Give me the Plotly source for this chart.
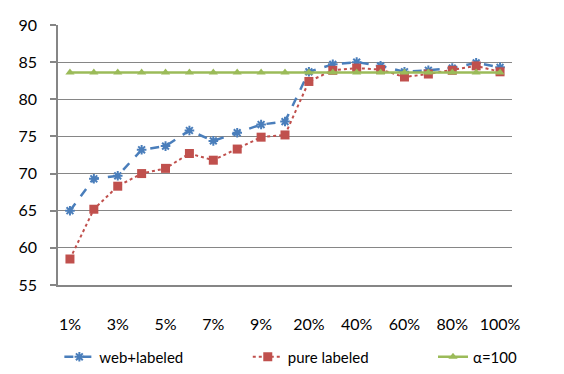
import plotly.graph_objects as go

categories = ["1%", "2%", "3%", "4%", "5%", "6%", "7%", "8%", "9%", "10%",
              "20%", "30%", "40%", "50%", "60%", "70%", "80%", "90%", "100%"]
web_labeled = [65.0, 69.3, 69.7, 73.2, 73.7, 75.8, 74.4, 75.5, 76.6, 77.0,
               83.7, 84.7, 85.0, 84.5, 83.7, 83.9, 84.2, 84.9, 84.3]
pure_labeled = [58.5, 65.2, 68.3, 70.0, 70.7, 72.7, 71.8, 73.3, 74.9, 75.2,
                82.4, 83.9, 84.2, 84.0, 83.0, 83.4, 83.9, 84.5, 83.7]
alpha_100 = [83.6] * len(categories)
shown_labels = ["1%", "3%", "5%", "7%", "9%", "20%", "40%", "60%", "80%", "100%"]

FONT = "Lato, 'Open Sans', sans-serif"
GRID = "#868686"

fig = go.Figure()
fig.add_trace(go.Scatter(
    x=categories, y=web_labeled, name="web+labeled", mode="lines+markers",
    line=dict(color="#4A7EBB", width=2.5, dash="dash"),
    marker=dict(symbol="asterisk-open", size=8, line=dict(color="#4A7EBB", width=2)),
    legend="legend",
))
fig.add_trace(go.Scatter(
    x=categories, y=pure_labeled, name="pure labeled", mode="lines+markers",
    line=dict(color="#C0504D", width=2, dash="dot"),
    marker=dict(symbol="square", size=9, color="#C0504D"),
    legend="legend2",
))
fig.add_trace(go.Scatter(
    x=categories, y=alpha_100, name="α=100", mode="lines+markers",
    line=dict(color="#9BBB59", width=2.5),
    marker=dict(symbol="triangle-up", size=8, color="#9BBB59"),
    legend="legend3",
))

n = len(categories)
leg_common = dict(orientation="h", y=-0.277, yanchor="middle", xanchor="left",
                  font=dict(size=15), bgcolor="rgba(0,0,0,0)")
fig.update_layout(
    width=556, height=366,
    margin=dict(l=50, r=52, t=17, b=89, autoexpand=False),
    paper_bgcolor="white", plot_bgcolor="white",
    font=dict(family=FONT, size=16, color="black"),
    showlegend=True,
    legend=dict(x=0.003, **leg_common),
    legend2=dict(x=0.418, **leg_common),
    legend3=dict(x=0.826, **leg_common),
    xaxis=dict(type="category", categoryorder="array", categoryarray=categories,
               range=[-0.5, n - 0.5], tickvals=shown_labels, ticks="",
               showgrid=False, showline=True, linecolor=GRID, linewidth=1.5,
               ticklabelstandoff=24, tickfont=dict(size=16), zeroline=False),
    xaxis2=dict(overlaying="x", anchor="y", side="bottom", range=[-0.5, n - 0.5],
                tickmode="array", tickvals=[i - 0.5 for i in range(n + 1)],
                ticks="outside", ticklen=6, tickcolor=GRID, tickwidth=1.5,
                showticklabels=False, showgrid=False, zeroline=False, showline=False),
    yaxis=dict(range=[55, 90], dtick=5, showgrid=True, gridcolor=GRID, gridwidth=1.2,
               showline=True, linecolor=GRID, linewidth=1.5, ticks="outside",
               ticklen=6, tickcolor=GRID, tickwidth=1.5, zeroline=False,
               ticklabelstandoff=10, tickfont=dict(size=16)),
)

fig.write_html("out.html")
